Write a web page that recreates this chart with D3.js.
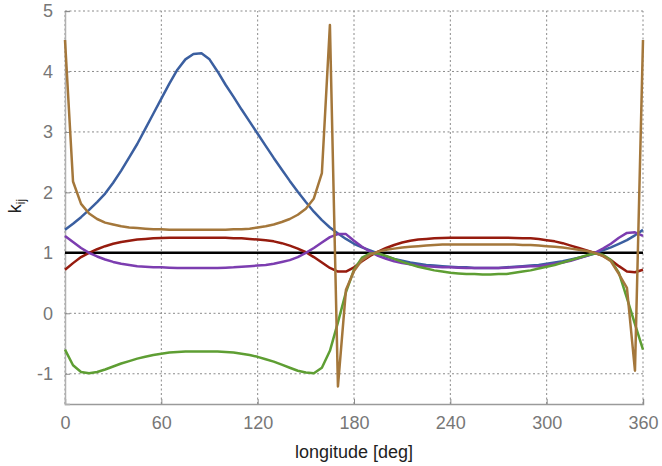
<!DOCTYPE html>
<html><head><meta charset="utf-8">
<script src="https://cdn.jsdelivr.net/npm/d3@7"></script>
<style>body{margin:0;background:#fff}svg{display:block}</style>
</head><body>
<script>
const lon = d3.range(0, 361, 5);
const xTicks = [0, 60, 120, 180, 240, 300, 360];
const yTicks = [-1, 0, 1, 2, 3, 4, 5];
const seriesNames = ["blue", "red", "purple", "green", "brown"];
const blue = [1.38,1.48,1.59,1.71,1.84,1.98,2.16,2.36,2.58,2.80,3.05,3.30,3.55,3.80,4.03,4.20,4.29,4.30,4.20,4.00,3.78,3.58,3.37,3.17,2.97,2.77,2.57,2.38,2.19,2.01,1.84,1.68,1.54,1.42,1.32,1.23,1.15,1.09,1.04,0.99,0.94,0.90,0.87,0.84,0.82,0.80,0.79,0.78,0.77,0.76,0.76,0.75,0.75,0.75,0.75,0.76,0.77,0.78,0.79,0.80,0.82,0.84,0.86,0.89,0.92,0.95,0.99,1.04,1.09,1.15,1.21,1.29,1.38];
const red = [0.72,0.83,0.93,1.00,1.06,1.11,1.15,1.18,1.20,1.22,1.23,1.24,1.245,1.25,1.25,1.25,1.25,1.25,1.25,1.25,1.25,1.24,1.24,1.23,1.22,1.21,1.19,1.16,1.12,1.07,1.01,0.93,0.84,0.75,0.69,0.69,0.76,0.86,0.95,1.02,1.08,1.13,1.17,1.20,1.22,1.23,1.24,1.245,1.25,1.25,1.25,1.25,1.25,1.25,1.25,1.25,1.245,1.24,1.24,1.23,1.21,1.19,1.16,1.12,1.08,1.04,1.00,0.95,0.88,0.78,0.69,0.68,0.72];
const purple = [1.28,1.18,1.08,1.00,0.94,0.89,0.85,0.82,0.80,0.78,0.77,0.76,0.76,0.755,0.75,0.75,0.75,0.75,0.75,0.75,0.755,0.76,0.77,0.78,0.79,0.80,0.82,0.85,0.88,0.93,1.00,1.08,1.17,1.26,1.31,1.31,1.20,1.10,1.02,0.95,0.90,0.86,0.83,0.81,0.79,0.78,0.77,0.76,0.76,0.755,0.75,0.75,0.75,0.75,0.75,0.755,0.76,0.77,0.78,0.78,0.80,0.82,0.84,0.87,0.91,0.95,1.00,1.07,1.15,1.25,1.33,1.34,1.28];
const green = [-0.60,-0.86,-0.97,-0.99,-0.97,-0.93,-0.88,-0.83,-0.79,-0.75,-0.72,-0.69,-0.67,-0.65,-0.64,-0.63,-0.63,-0.63,-0.63,-0.63,-0.64,-0.65,-0.67,-0.69,-0.72,-0.76,-0.80,-0.85,-0.90,-0.95,-0.98,-0.99,-0.90,-0.62,-0.15,0.35,0.72,0.92,0.99,0.99,0.95,0.90,0.85,0.81,0.77,0.74,0.71,0.69,0.67,0.66,0.65,0.65,0.64,0.64,0.65,0.65,0.67,0.69,0.71,0.74,0.77,0.80,0.84,0.88,0.92,0.96,0.99,0.97,0.88,0.67,0.25,-0.18,-0.60];
const brown = [4.52,2.18,1.81,1.65,1.56,1.50,1.47,1.44,1.42,1.41,1.40,1.39,1.39,1.38,1.38,1.38,1.38,1.38,1.38,1.38,1.38,1.39,1.39,1.40,1.42,1.44,1.47,1.51,1.56,1.63,1.73,1.90,2.32,4.77,-1.21,0.39,0.70,0.88,0.97,1.02,1.05,1.07,1.09,1.10,1.11,1.12,1.13,1.14,1.14,1.14,1.14,1.14,1.14,1.14,1.14,1.14,1.14,1.13,1.13,1.12,1.11,1.10,1.09,1.07,1.05,1.03,1.00,0.95,0.86,0.65,0.42,-0.95,4.52];
const refLevel = [1, 1];
const colors = {blue:"#3b5fa0", red:"#961b0e", purple:"#7c3db0", green:"#5e9e33", brown:"#a4773b"};
const data = {blue, red, purple, green, brown};

const W = 662, H = 466;
const svg = d3.select("body").append("svg").attr("width", W).attr("height", H);
const x = d3.scaleLinear().domain([0, 360]).range([65, 643]);
const y = d3.scaleLinear().domain([-1.5, 5]).range([404, 11]);
const font = "'Liberation Sans', Arial, Helvetica, sans-serif";
const fmt = d => String(d);

// grid
const grid = svg.append("g").attr("stroke", "#8a8a8a").attr("stroke-width", 1).attr("stroke-dasharray", "2,2.5");
grid.selectAll("line.h").data(yTicks).join("line")
  .attr("x1", x(0)).attr("x2", x(360)).attr("y1", d => y(d)).attr("y2", d => y(d));
grid.selectAll("line.v").data(xTicks).join("line")
  .attr("y1", y(-1.5)).attr("y2", y(5)).attr("x1", d => x(d)).attr("x2", d => x(d));

// axes
const xAxis = d3.axisBottom(x).tickValues(xTicks).tickSize(-5).tickPadding(12).tickFormat(fmt);
const yAxis = d3.axisLeft(y).tickValues(yTicks).tickSize(-5).tickPadding(12).tickFormat(fmt);
const gx = svg.append("g").attr("transform", `translate(0,${y(-1.5)})`).call(xAxis);
const gy = svg.append("g").attr("transform", `translate(${x(0)},0)`).call(yAxis);
[gx, gy].forEach(g => {
  g.select(".domain").attr("stroke", "#9a9a9a").attr("stroke-width", 1.5);
  g.selectAll(".tick line").attr("stroke", "#8a8a8a").attr("stroke-width", 1);
  g.selectAll(".tick text").attr("fill", "#777").attr("font-size", 18).attr("font-family", font);
});
gy.select(".domain").attr("stroke", "#b0b0b0");

// reference line
const line = d3.line().x((d, i) => x(lon[i])).y(d => y(d));
svg.append("line").attr("x1", x(0)).attr("x2", x(360)).attr("y1", y(refLevel[0])).attr("y2", y(refLevel[1]))
  .attr("stroke", "#000").attr("stroke-width", 2.5);

seriesNames.forEach(n => {
  svg.append("path").datum(data[n]).attr("d", line).attr("fill", "none")
    .attr("stroke", colors[n]).attr("stroke-width", 2.5).attr("stroke-linejoin", "round");
});

// titles
svg.append("text").attr("x", 354).attr("y", 458).attr("text-anchor", "middle")
  .attr("font-family", font).attr("font-size", 18).attr("fill", "#222").text("longitude [deg]");
const yt = svg.append("text").attr("transform", "translate(21,206) rotate(-90)").attr("text-anchor", "middle")
  .attr("font-family", font).attr("font-size", 18).attr("fill", "#222");
yt.append("tspan").text("k");
yt.append("tspan").attr("font-size", 12).attr("dy", 4).text("ij");
</script>
</body></html>
